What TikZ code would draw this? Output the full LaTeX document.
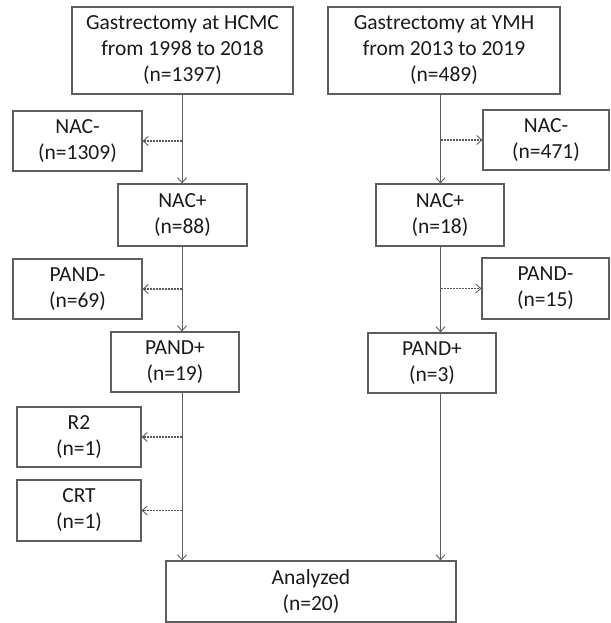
\documentclass[tikz,border=0pt]{standalone}
\usepackage{fontspec}
\setmainfont{Carlito}
\usetikzlibrary{arrows.meta}
\definecolor{linec}{HTML}{5E5E5E}
\definecolor{dashc}{HTML}{5A5A5A}
\definecolor{textc}{HTML}{1A1A1A}
\tikzset{
  box/.style={draw=linec, line width=1.2pt, align=center, text=textc, inner sep=0pt,
    font=\fontsize{21.5}{26}\selectfont},
  arr/.style={draw=linec, line width=1pt, -{Straight Barb[length=5pt,width=9pt,line width=0.9pt]}},
  dotarr/.style={draw=dashc, line width=1.2pt, dash pattern=on 2pt off 1pt,
    -{Straight Barb[length=5pt,width=9pt,line width=0.9pt]}}
}
\begin{document}
\begin{tikzpicture}[x=1pt,y=-1pt]
\useasboundingbox (0,0) rectangle (610,623);
% left column
\node[box, minimum width=221pt, minimum height=87pt] (hcmc) at (182.5,50.5) {Gastrectomy at HCMC\\from 1998 to 2018\\(n=1397)};
\node[box, minimum width=129pt, minimum height=60pt] (nacmL) at (77.5,141) {NAC-\\(n=1309)};
\node[box, minimum width=129pt, minimum height=62pt] (nacpL) at (182.5,215) {NAC+\\(n=88)};
\node[box, minimum width=129pt, minimum height=60pt] (pandmL) at (77.5,289) {PAND-\\(n=69)};
\node[box, minimum width=128pt, minimum height=60pt] (pandpL) at (175,362) {PAND+\\(n=19)};
\node[box, minimum width=124pt, minimum height=60pt] (r2) at (79,437) {R2\\(n=1)};
\node[box, minimum width=124pt, minimum height=61pt] (crt) at (79,510.5) {CRT\\(n=1)};
% right column
\node[box, minimum width=232pt, minimum height=87pt] (ymh) at (444,50.5) {Gastrectomy at YMH\\from 2013 to 2019\\(n=489)};
\node[box, minimum width=126pt, minimum height=60pt] (nacmR) at (546,140) {NAC-\\(n=471)};
\node[box, minimum width=128pt, minimum height=62pt] (nacpR) at (440,215) {NAC+\\(n=18)};
\node[box, minimum width=127pt, minimum height=61pt] (pandmR) at (545.5,288.5) {PAND-\\(n=15)};
\node[box, minimum width=128pt, minimum height=60pt] (pandpR) at (432,363) {PAND+\\(n=3)};
% bottom
\node[box, minimum width=290pt, minimum height=61pt] (ana) at (311,591.5) {Analyzed\\(n=20)};
\coordinate (lx) at (182,0);
\coordinate (rx) at (440.5,0);
% left connectors
\draw[arr] (lx |- hcmc.south) -- (lx |- nacpL.north);
\draw[arr] (lx |- nacpL.south) -- (lx |- pandpL.north);
\draw[arr] (lx |- pandpL.south) -- (lx |- ana.north);
\draw[dotarr] (lx |- nacmL.east) -- (nacmL.east);
\draw[dotarr] (lx |- pandmL.east) -- (pandmL.east);
\draw[dotarr] (lx |- r2.east) -- (r2.east);
\draw[dotarr] (lx |- crt.east) -- (crt.east);
% right connectors
\draw[arr] (rx |- ymh.south) -- (rx |- nacpR.north);
\draw[arr] (rx |- nacpR.south) -- (rx |- pandpR.north);
\draw[arr] (rx |- pandpR.south) -- (rx |- ana.north);
\draw[dotarr] (rx |- nacmR.west) -- (nacmR.west);
\draw[dotarr] (rx |- pandmR.west) -- (pandmR.west);
\end{tikzpicture}
\end{document}
